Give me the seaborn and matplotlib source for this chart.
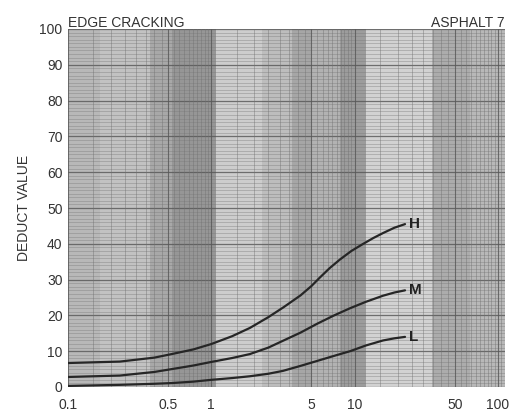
import numpy as np
import pandas as pd
import matplotlib
matplotlib.use("Agg")
import matplotlib.pyplot as plt
import seaborn as sns
from matplotlib.ticker import FixedLocator, NullFormatter, MultipleLocator

# ---- data ----
h_x = [0.1, 0.23, 0.4, 0.53, 0.75, 1.0, 1.4, 1.86, 2.5, 3.2, 4.2, 5.0, 5.7, 6.7, 7.9, 9.5, 11.5, 13.5, 15.8, 19.0, 22.5]
h_y = [6.7, 7.1, 8.2, 9.2, 10.5, 12.0, 14.2, 16.5, 19.5, 22.3, 25.6, 28.2, 30.5, 33.2, 35.6, 38.0, 40.0, 41.6, 43.0, 44.5, 45.5]
m_x = [0.1, 0.23, 0.4, 0.53, 0.75, 1.0, 1.4, 1.86, 2.5, 3.16, 4.2, 5.5, 7.2, 9.3, 12.0, 15.8, 19.0, 22.5]
m_y = [2.8, 3.2, 4.2, 5.0, 6.0, 7.0, 8.1, 9.2, 11.0, 12.9, 15.2, 17.7, 20.0, 22.0, 23.8, 25.5, 26.4, 27.0]
l_x = [0.1, 0.23, 0.4, 0.53, 0.75, 1.0, 1.4, 1.86, 2.5, 3.16, 4.2, 5.5, 7.2, 9.3, 12.0, 15.8, 19.0, 22.5]
l_y = [0.3, 0.6, 0.9, 1.1, 1.5, 2.0, 2.5, 3.0, 3.7, 4.5, 5.9, 7.3, 8.7, 10.0, 11.6, 13.0, 13.6, 14.0]
x_ticks = [0.1, 0.5, 1, 5, 10, 50, 100]
x_tick_labels = ["0.1", "0.5", "1", "5", "10", "50", "100"]
y_ticks = [0, 10, 20, 30, 40, 50, 60, 70, 80, 90, 100]
severity = ["H", "M", "L"]

df = pd.concat([
    pd.DataFrame({"density": h_x, "deduct": h_y, "sev": "H"}),
    pd.DataFrame({"density": m_x, "deduct": m_y, "sev": "M"}),
    pd.DataFrame({"density": l_x, "deduct": l_y, "sev": "L"}),
])

sns.set_style("white")
plt.rcParams["font.family"] = ["Liberation Sans", "DejaVu Sans"]

fig = plt.figure(figsize=(5.14, 4.16), dpi=100)
ax = fig.add_axes([68/514, 29/416, 437/514, 358/416])
XMAX = 10 ** 2.05
ax.set_xscale("log")
ax.set_xlim(0.1, XMAX)
ax.set_ylim(0, 100)

# scan-like vertical shading bands (pixel columns -> data)
def px2x(px):
    return 10 ** (-1 + (px - 68) / 143.3)

bands = [(68, 100, "#b8b8b8"), (100, 150, "#c2c2c2"), (150, 172, "#a8a8a8"),
         (172, 216, "#969696"), (216, 262, "#cdcdcd"), (262, 292, "#bdbdbd"),
         (292, 312, "#a6a6a6"), (312, 340, "#b2b2b2"), (340, 366, "#9c9c9c"),
         (366, 432, "#d2d2d2"), (432, 470, "#acacac"), (470, 505, "#b8b8b8")]
for a, b, c in bands:
    ax.axvspan(px2x(a), px2x(b), color=c, lw=0, zorder=0)

# fine grid
ax.yaxis.set_minor_locator(MultipleLocator(1))
ax.grid(which="minor", axis="y", color="#7a7a7a", lw=0.5, alpha=0.55, zorder=1)
ax.grid(which="major", axis="y", color="#555555", lw=0.9, alpha=0.8, zorder=1)
minor_x = []
for dec in [0.1, 1, 10]:
    for k in np.arange(1.0, 10.0, 0.5):
        minor_x.append(dec * k)
minor_x.append(100)
minor_x.append(105)
for v in minor_x:
    ax.axvline(v, color="#707070", lw=0.5, alpha=0.6, zorder=1)
for v in [0.1, 0.5, 1, 5, 10, 50, 100]:
    ax.axvline(v, color="#555555", lw=0.8, alpha=0.7, zorder=1)

sns.lineplot(data=df, x="density", y="deduct", hue="sev", palette=["#262626"] * 3,
             lw=1.6, legend=False, ax=ax, zorder=3, sort=False)

for s, xs, ys in [("H", h_x, h_y), ("M", m_x, m_y), ("L", l_x, l_y)]:
    ax.text(xs[-1] * 1.06, ys[-1], s, fontsize=11, fontweight="bold",
            color="#222222", va="center", ha="left", zorder=4)

ax.set_xticks(x_ticks)
ax.set_xticklabels(x_tick_labels)
ax.xaxis.set_minor_locator(FixedLocator([]))
ax.xaxis.set_minor_formatter(NullFormatter())
ax.set_yticks(y_ticks)
ax.tick_params(axis="both", which="major", labelsize=10, colors="#333333",
               length=2, pad=2)
ax.tick_params(axis="x", which="major", pad=6)
ax.tick_params(axis="y", which="minor", length=0)
for sp in ax.spines.values():
    sp.set_visible(False)
ax.set_xlabel("")
ax.set_ylabel("DEDUCT VALUE", fontsize=10, color="#333333", labelpad=6)

fig.text(68/514, 1 - 27/416, "EDGE CRACKING", fontsize=10, color="#333333",
         ha="left", va="baseline")
fig.text(505/514, 1 - 27/416, "ASPHALT 7", fontsize=10, color="#333333",
         ha="right", va="baseline")

fig.savefig("out.png", dpi=100, facecolor="white")
